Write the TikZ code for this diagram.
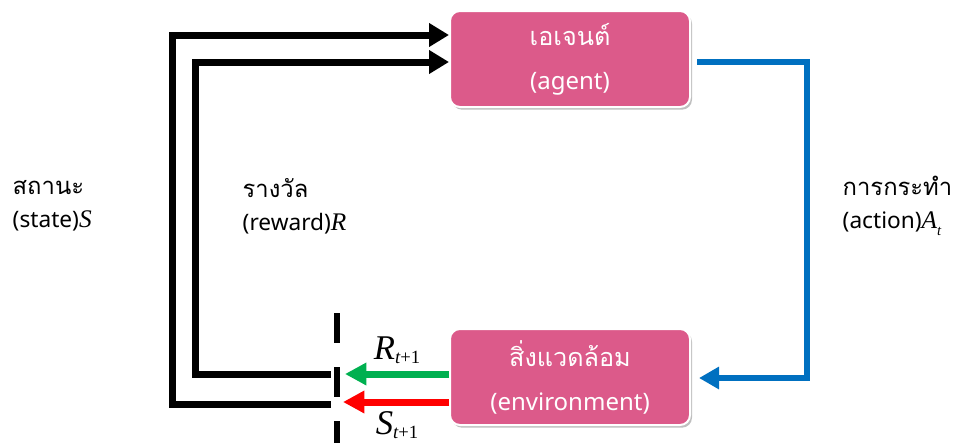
\documentclass[tikz,border=0pt]{standalone}
\usepackage{fontspec}
\usetikzlibrary{arrows.meta,calc,shadows}
\setmainfont{Noto Sans}
\newfontfamily\thai[Script=Thai,Scale=1.05]{Loma}
\newfontfamily\tnr{Liberation Serif}
\definecolor{boxpink}{RGB}{220,90,138}
\definecolor{actblue}{RGB}{0,112,192}
\definecolor{rwgreen}{RGB}{0,176,80}
\definecolor{stred}{RGB}{255,0,0}
% italic symbol with an optional lowered index
\newcommand{\msym}[2]{{\tnr\itshape\fontsize{19}{19}\selectfont #1}\ifx\relax#2\relax\else\raisebox{-0.32em}{\fontsize{11}{11}\selectfont\tnr #2}\fi}
\newcommand{\bigsym}[2]{{\tnr\itshape\fontsize{26}{26}\selectfont #1}\raisebox{-0.3em}{\fontsize{14}{14}\selectfont\tnr #2}}
\begin{document}
\begin{tikzpicture}[x=0.75pt,y=-0.75pt,
  box/.style={rounded corners=7.5pt, fill=boxpink, draw=white, line width=1.5pt,
    minimum width=180pt, minimum height=72pt, text=white, align=center,
    font=\fontsize{18}{33}\selectfont,
    drop shadow={shadow xshift=1.5pt, shadow yshift=-2pt, fill=black, opacity=0.25}},
  feed/.style={line width=5.25pt, draw=black, -{Triangle[length=15pt,width=17pt]}},
  act/.style={line width=4.5pt, draw=actblue, -{Triangle[length=15pt,width=16pt]}},
  sig/.style={line width=5.25pt, -{Triangle[length=16pt,width=16pt]}},
  lbl/.style={anchor=west, align=left, font=\fontsize{17}{25}\selectfont},
  boundary/.style={line width=4.5pt, dash pattern=on 22.5pt off 18pt}
]
\useasboundingbox (0,0) rectangle (960,443);

% agent and environment
\node[box] (agent) at (570,59) {{\thai เอเจนต์}\\(agent)};
\node[box] (env) at (570,377) {{\thai สิ่งแวดล้อม}\\(environment)};

% interface boundary between environment and agent
\coordinate (btop) at (337,313);
\coordinate (bbot) at (337,443);
\draw[boundary] (btop) -- (bbot);

% ends of the state and reward lines at the boundary
\coordinate (sEnd) at (328,404);
\coordinate (rEnd) at (328,374);
\coordinate (sTip) at (343,402);
\coordinate (rTip) at (345,374);

% new reward and state leaving the environment
\draw[sig, draw=rwgreen, color=rwgreen] (env.west |- rTip) -- (rTip);
\draw[sig, draw=stred, color=stred] (env.west |- sTip) -- (sTip);
\node (rlab) at (397,350) {\bigsym{R}{\itshape t\upshape+1}};
\node (slab) at (397,425) {\bigsym{S}{\itshape t\upshape+1}};

% state and reward fed back to the agent
\draw[feed] ([xshift=2pt]sEnd) -- (172,404) -- (172,35) -- ($(agent.west)+(0,-24)$);
\draw[feed] ([xshift=2pt]rEnd) -- (195,374) -- (195,62) -- ($(agent.west)+(0,3)$);

% action from agent to environment
\draw[act] ($(agent.east)+(6,3)$) -- (807,62) -- (807,378) -- ($(env.west -| env.east)+(8,1)$);

% labels
\node[lbl] (state) at (8,206) {{\thai สถานะ}\\(state)\msym{S}{}};
\node[lbl] (reward) at (238,206) {{\thai รางวัล}\\(reward)\msym{R}{}};
\node[lbl] (action) at (838,206) {{\thai การกระทำ}\\(action)\msym{A}{\itshape t}};
\end{tikzpicture}
\end{document}
